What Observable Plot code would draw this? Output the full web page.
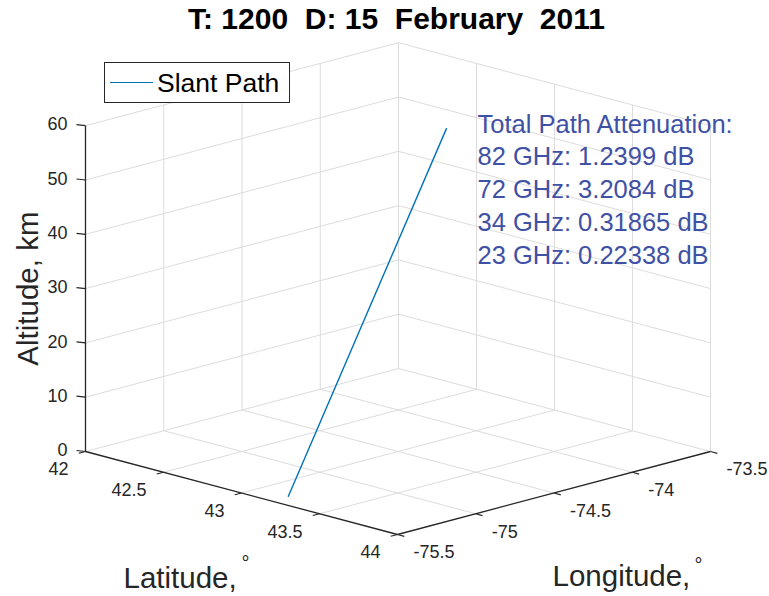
<!DOCTYPE html>
<html>
<head>
<meta charset="utf-8">
<script src="https://cdn.jsdelivr.net/npm/d3@7"></script>
<script src="https://cdn.jsdelivr.net/npm/@observablehq/plot@0.6"></script>
<style>
  body { margin: 0; background: #fff; }
  #wrap { position: relative; width: 769px; height: 596px; font-family: "Liberation Sans", Arial, Helvetica, sans-serif; }
  #wrap svg text { white-space: pre; }
  #legend { position: absolute; left: 104px; top: 62px; width: 184px; height: 39px; border: 1px solid #262626; background: #fff; }
  #legend .swatch { position: absolute; left: 5px; top: 19px; width: 43px; height: 0; border-top: 1.3px solid #0072BD; }
  #legend .label { position: absolute; left: 52px; top: 5px; font-size: 26.5px; line-height: 30px; color: #000; white-space: nowrap; }
</style>
</head>
<body>
<div id="wrap"></div>
<script>
// ---- data ----
const latTicks = [42, 42.5, 43, 43.5, 44];
const lonTicks = [-75.5, -75, -74.5, -74, -73.5];
const altTicks = [0, 10, 20, 30, 40, 50, 60];
const pathLat = [43.19, 43.19];
const pathLon = [-75.39, -74.38];
const pathAlt = [0, 60];
const freqLabels = ["82 GHz", "72 GHz", "34 GHz", "23 GHz"];
const attenuationDb = ["1.2399", "3.2084", "0.31865", "0.22338"];
const titleText = "T: 1200  D: 15  February  2011";
const seriesName = "Slant Path";

// ---- 3D view (orthographic projection of the MATLAB box) ----
const W = 769, H = 596;
const latMin = latTicks[0], latMax = latTicks[latTicks.length - 1];
const lonMin = lonTicks[0], lonMax = lonTicks[lonTicks.length - 1];
const altMax = altTicks[altTicks.length - 1];
const view = { origin: [85, 451], lat: [156, 41.5], lon: [156.5, -41.5], alt: [0, -5.43] };
function proj(lat, lon, alt) {
  const a = lat - latMin, b = lon - lonMin;
  return [
    view.origin[0] + a * view.lat[0] + b * view.lon[0] + alt * view.alt[0],
    view.origin[1] + a * view.lat[1] + b * view.lon[1] + alt * view.alt[1]
  ];
}

// grid segments (floor + two back walls)
const grid = [];
for (const la of latTicks.slice(0, -1)) grid.push([[la, lonMin, 0], [la, lonMax, 0]]);
for (const lo of lonTicks.slice(1)) grid.push([[latMin, lo, 0], [latMax, lo, 0]]);
for (const z of altTicks.slice(1)) grid.push([[latMin, lonMin, z], [latMin, lonMax, z]]);
for (const lo of lonTicks.slice(1)) grid.push([[latMin, lo, 0], [latMin, lo, altMax]]);
for (const z of altTicks.slice(1)) grid.push([[latMin, lonMax, z], [latMax, lonMax, z]]);
for (const la of latTicks.slice(1)) grid.push([[la, lonMax, 0], [la, lonMax, altMax]]);

const axesLines = [
  [[latMin, lonMin, 0], [latMin, lonMin, altMax]],
  [[latMin, lonMin, 0], [latMax, lonMin, 0]],
  [[latMax, lonMin, 0], [latMax, lonMax, 0]]
];

const path = pathLat.map((la, i) => ({ lat: la, lon: pathLon[i], alt: pathAlt[i] }));
const annotation = ["Total Path Attenuation:", ...freqLabels.map((f, i) => `${f}: ${attenuationDb[i]} dB`)];

const linkOpts = {
  x1: d => proj(...d[0])[0], y1: d => proj(...d[0])[1],
  x2: d => proj(...d[1])[0], y2: d => proj(...d[1])[1]
};
const axisColor = "#262626";
const tickLen = 7;

const chart = Plot.plot({
  width: W, height: H, margin: 0,
  x: { type: "linear", domain: [0, W], range: [0, W], axis: null },
  y: { type: "linear", domain: [0, H], range: [0, H], axis: null },
  style: { fontFamily: '"Liberation Sans", Arial, Helvetica, sans-serif', background: "#fff", overflow: "visible" },
  marks: [
    Plot.link(grid, { ...linkOpts, stroke: "#dcdcdc", strokeWidth: 1 }),
    Plot.link(axesLines, { ...linkOpts, stroke: axisColor, strokeWidth: 1.3 }),
    // ticks
    Plot.link(altTicks, { x1: d => proj(latMin, lonMin, d)[0], y1: d => proj(latMin, lonMin, d)[1],
      x2: d => proj(latMin, lonMin, d)[0] - 9, y2: d => proj(latMin, lonMin, d)[1] - 1, stroke: axisColor, strokeWidth: 1.2 }),
    Plot.link(latTicks, { x1: d => proj(d, lonMin, 0)[0], y1: d => proj(d, lonMin, 0)[1],
      x2: d => proj(d, lonMin, 0)[0] - 0.967 * tickLen, y2: d => proj(d, lonMin, 0)[1] + 0.256 * tickLen, stroke: axisColor, strokeWidth: 1.2 }),
    Plot.link(lonTicks, { x1: d => proj(latMax, d, 0)[0], y1: d => proj(latMax, d, 0)[1],
      x2: d => proj(latMax, d, 0)[0] + 0.966 * tickLen, y2: d => proj(latMax, d, 0)[1] + 0.257 * tickLen, stroke: axisColor, strokeWidth: 1.2 }),
    // tick labels
    Plot.text(altTicks, { x: d => proj(latMin, lonMin, d)[0] - 18, y: d => proj(latMin, lonMin, d)[1] - 1,
      text: d => String(d), textAnchor: "end", lineAnchor: "middle", fontSize: 18, fill: axisColor }),
    Plot.text(latTicks, { x: d => proj(d, lonMin, 0)[0] - 17, y: d => proj(d, lonMin, 0)[1] + 18,
      text: d => String(d), textAnchor: "end", lineAnchor: "middle", fontSize: 18, fill: axisColor }),
    Plot.text(lonTicks, { x: d => proj(latMax, d, 0)[0] + 16, y: d => proj(latMax, d, 0)[1] + 18,
      text: d => String(d), textAnchor: "start", lineAnchor: "middle", fontSize: 18, fill: axisColor }),
    // axis titles
    Plot.text(["Altitude, km"], { x: () => proj(latMin, lonMin, altMax / 2)[0] - 57, y: () => proj(latMin, lonMin, altMax / 2)[1],
      rotate: -90, textAnchor: "middle", lineAnchor: "middle", fontSize: 29.5, fill: axisColor }),
    Plot.text(["Latitude,"], { x: () => proj(latMin, lonMin, 0)[0] + 38, y: () => proj(latMax, lonMin, 0)[1] + 53,
      textAnchor: "start", lineAnchor: "bottom", fontSize: 29.5, fill: axisColor }),
    Plot.text(["°"], { x: () => proj(latMin, lonMin, 0)[0] + 160, y: () => proj(latMax, lonMin, 0)[1] + 35.5,
      textAnchor: "middle", lineAnchor: "bottom", fontSize: 20, fill: axisColor }),
    Plot.text(["Longitude,"], { x: () => proj(latMax, lonMin, 0)[0] + 155, y: () => proj(latMax, lonMin, 0)[1] + 51,
      textAnchor: "start", lineAnchor: "bottom", fontSize: 29.5, fill: axisColor }),
    Plot.text(["°"], { x: () => proj(latMax, lonMin, 0)[0] + 301, y: () => proj(latMax, lonMin, 0)[1] + 37.5,
      textAnchor: "middle", lineAnchor: "bottom", fontSize: 20, fill: axisColor }),
    // slant path
    Plot.line(path, { x: d => proj(d.lat, d.lon, d.alt)[0], y: d => proj(d.lat, d.lon, d.alt)[1],
      stroke: "#0072BD", strokeWidth: 1.4 }),
    // annotation
    Plot.text(annotation, { x: () => 477, y: (d, i) => 132 + i * 32.8, text: d => d,
      textAnchor: "start", lineAnchor: "bottom", fontSize: 25.5, fill: "#3f51a5" }),
    // title
    Plot.text([titleText], { frameAnchor: "top", dx: 11.5, dy: 6.7, lineAnchor: "top",
      fontSize: 30, fontWeight: "bold", fill: "#000" })
  ]
});

const wrap = document.getElementById("wrap");
wrap.appendChild(chart);
const legend = document.createElement("div");
legend.id = "legend";
legend.innerHTML = `<div class="swatch"></div><div class="label"></div>`;
legend.querySelector(".label").textContent = seriesName;
wrap.appendChild(legend);
</script>
</body>
</html>
